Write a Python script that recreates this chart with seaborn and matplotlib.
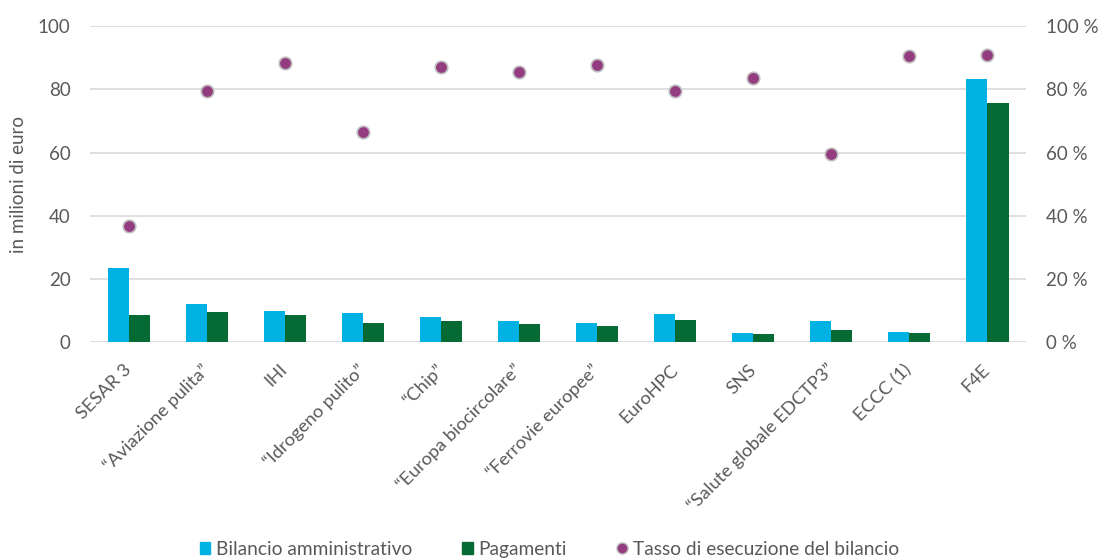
import pandas as pd
import matplotlib
matplotlib.use('Agg')
import matplotlib.pyplot as plt
import seaborn as sns
from matplotlib.lines import Line2D
from matplotlib.patches import Patch
from matplotlib.ticker import FuncFormatter

# Dati
categorie = ['SESAR 3', '“Aviazione pulita”', 'IHI', '“Idrogeno pulito”', '“Chip”',
             '“Europa biocircolare”', '“Ferrovie europee”', 'EuroHPC', 'SNS',
             '“Salute globale EDCTP3”', 'ECCC (1)', 'F4E']
bilancio = [23.4, 12.0, 9.8, 9.2, 7.8, 6.6, 5.9, 8.9, 2.9, 6.6, 3.1, 83.2]
pagamenti = [8.5, 9.5, 8.5, 6.0, 6.6, 5.7, 5.1, 7.0, 2.4, 3.8, 2.8, 75.8]
tasso = [36.7, 79.6, 88.3, 66.5, 87.2, 85.5, 87.7, 79.5, 83.6, 59.5, 90.6, 91.0]

serie = ['Bilancio amministrativo', 'Pagamenti']
colori = ['#00B2E3', '#056A34']
col_punti = '#943C80'
grigio = '#595959'

df = pd.DataFrame({'categoria': categorie * 2,
                   'serie': [serie[0]] * len(categorie) + [serie[1]] * len(categorie),
                   'valore': bilancio + pagamenti})

sns.set_style('white')
plt.rcParams['font.family'] = ['Lato', 'DejaVu Sans']

fig = plt.figure(figsize=(10.99, 5.58), dpi=100)
ax = fig.add_axes([0.082, 0.387, 0.852, 0.566])

sns.barplot(data=df, x='categoria', y='valore', hue='serie', palette=colori,
            width=0.54, ax=ax, legend=False, saturation=1, linewidth=0)
ax.set_ylim(0, 100)
ax.set_yticks(range(0, 101, 20))
ax.yaxis.grid(True, color='#D9D9D9', linewidth=1.2)
ax.set_axisbelow(True)
for s in ax.spines.values():
    s.set_visible(False)
ax.set_xlabel('')
ax.set_ylabel('in milioni di euro', fontsize=13.5, color=grigio, labelpad=8)
ax.tick_params(axis='both', length=0, colors=grigio, labelsize=13.5)
ax.tick_params(axis='y', pad=14)
ax.tick_params(axis='x', pad=18)
plt.setp(ax.get_xticklabels(), rotation=45, ha='right', va='center',
         rotation_mode='anchor', fontsize=13.2)

ax2 = ax.twinx()
sns.stripplot(x=categorie, y=tasso, ax=ax2, jitter=False, color=col_punti, size=9,
              edgecolor='#BFBFBF', linewidth=1.2, zorder=5)
ax2.set_ylim(0, 100)
ax2.set_yticks(range(0, 101, 20))
ax2.yaxis.set_major_formatter(FuncFormatter(lambda v, p: f'{v:.0f} %'))
ax2.tick_params(axis='y', length=0, colors=grigio, labelsize=13.5, pad=14)
for s in ax2.spines.values():
    s.set_visible(False)
ax2.set_xlim(-0.5, len(categorie) - 0.5)
ax.set_xlim(-0.5, len(categorie) - 0.5)

handles = [Patch(color=colori[0], label=serie[0]),
           Patch(color=colori[1], label=serie[1]),
           Line2D([], [], marker='o', linestyle='', color=col_punti, markeredgecolor='#BFBFBF',
                  markersize=8, label='Tasso di esecuzione del bilancio')]
fig.legend(handles=handles, loc='center', bbox_to_anchor=(0.5, 0.016), ncol=3, frameon=False,
           fontsize=13.8, labelcolor=grigio, handlelength=0.55, handleheight=0.55,
           handletextpad=0.3, columnspacing=2.6)

fig.savefig('out.png', dpi=100)
